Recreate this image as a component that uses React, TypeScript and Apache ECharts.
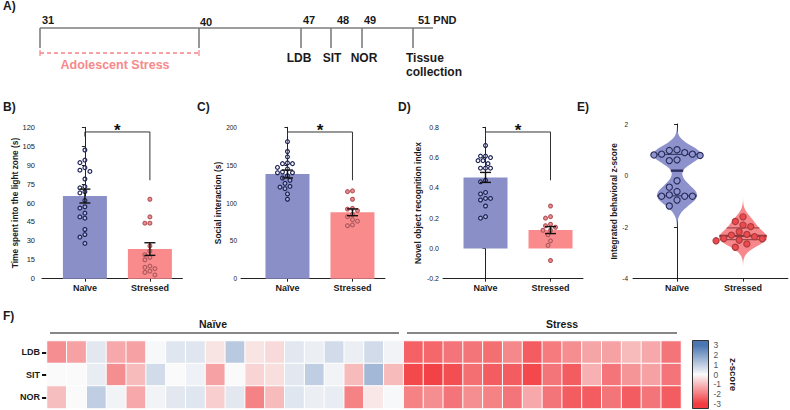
import React, { useEffect, useRef } from "react";
import * as echarts from "echarts";

const FONT = 'Arial, "Liberation Sans", Helvetica, sans-serif';
const NAIVE = "#8a8fc7";
const STRESS = "#f98b8d";
const INK = "#1a1a1a";

const groups = ["Naïve", "Stressed"];

// ---- Panel A: timeline ----
const pndDays = ["31", "40", "47", "48", "49", "51 PND"];
const tests = ["LDB", "SIT", "NOR"];

// ---- Panel B: light/dark box ----
const ldbNaive = [102, 94, 92, 88, 86, 85, 79, 73, 72, 69, 68, 62, 57, 56, 52, 49, 48, 39, 35, 33, 28];
const ldbStressed = [63, 49, 44, 44, 26, 22, 19, 17, 15, 10, 9, 8, 6, 5, 3];
const ldbMean = [65.5, 23.5];
const ldbSem = [5.5, 5.0];
const ldbBracket = [112.6, 116.3, 78];

// ---- Panel C: social interaction ----
const sitNaive = [181, 168, 161, 153, 152, 152, 147, 145, 141, 140, 140, 136, 133, 130, 126, 122, 121, 119, 112, 105];
const sitStressed = [116, 115, 105, 93, 92, 90, 85, 82, 78, 76, 71, 70];
const sitMean = [138.3, 87.7];
const sitSem = [5.2, 4.5];
const sitBracket = [188.5, 193.8, 130];

// ---- Panel D: novel object recognition ----
const norNaive = [0.68, 0.61, 0.61, 0.6, 0.58, 0.58, 0.56, 0.53, 0.53, 0.53, 0.45, 0.44, 0.37, 0.36, 0.33, 0.33, 0.32, 0.28, 0.21, 0.2];
const norStressed = [0.28, 0.21, 0.2, 0.16, 0.15, 0.14, 0.12, 0.12, 0.09, 0.05, 0.02, -0.08];
const norMean = [0.469, 0.121];
const norSem = [0.033, 0.023];
const norBracket = [0.738, 0.769, 0.45];

// ---- Panel E: integrated z-score ----
const zNaive = [1.0, 0.97, 0.89, 0.83, 0.83, 0.8, 0.78, 0.61, 0.58, -0.2, -0.45, -0.62, -0.75, -0.8, -0.8, -0.8, -0.95, -1.18];
const zStressed = [-1.6, -1.78, -1.92, -1.98, -2.18, -2.28, -2.31, -2.37, -2.44, -2.45, -2.5, -2.53, -2.65, -2.78];

// ---- Panel F: heatmap ----
const heatRows = ["LDB", "SIT", "NOR"];
const heatNaiveLDB = [-1.7, -1.4, 0.4, -1.3, -1.4, 0.05, 0.45, 0.45, -0.35, 1.1, -0.35, -0.5, 0.4, 0.25, 0.7, 0.25, 0.7, 0.15];
const heatNaiveSIT = [0.0, 0.0, 0.3, -1.7, -1.0, 0.7, 0.0, 0.2, -1.4, 0.0, -0.6, -0.45, 0.4, 1.0, 0.15, -1.0, 1.5, -1.0];
const heatNaiveNOR = [-0.95, 0.0, 1.0, 0.15, -1.3, 0.15, 0.4, 0.45, -0.7, 0.4, -1.9, -1.0, 0.45, 0.25, 0.3, -1.9, -0.3, 0.05];
const heatStressLDB = [-2.4, -2.3, -2.1, -2.1, -2.2, -1.8, -2.5, -2.0, -1.7, -1.35, -1.4, -1.0, -1.3, -2.1];
const heatStressSIT = [-2.8, -2.9, -2.7, -2.2, -2.5, -2.5, -2.8, -2.1, -2.5, -1.15, -2.1, -1.6, -1.4, -2.1];
const heatStressNOR = [-1.9, -1.7, -2.1, -1.7, -1.9, -2.1, -1.3, -2.1, -2.5, -2.5, -2.1, -2.5, -2.1, -2.5];
const zTicks = [3, 2, 1, 0, -1, -2, -3];

const RED = "#f23c41";
const WHITE = "#fafafa";
const BLUE = "#4a76b2";

function swarm(values: number[], center: number, pxY: number, pxX: number, dot: number): number[][] {
  const order = values.map((_, i) => i).sort((a, b) => values[b] - values[a]);
  const placed: number[][] = [];
  const out: number[][] = [];
  for (const i of order) {
    const y = values[i] * pxY;
    let best = 0;
    for (let k = 0; k < 80; k++) {
      const step = Math.ceil(k / 2) * dot * 0.5;
      const off = k === 0 ? 0 : k % 2 ? -step : step;
      if (placed.every(([px, py]) => Math.hypot(px - off, py - y) >= dot - 0.01)) {
        best = off;
        break;
      }
    }
    placed.push([best, y]);
    out.push([center + best / pxX, values[i]]);
  }
  return out;
}

function kde(vals: number[], factor: number) {
  const n = vals.length;
  const mean = vals.reduce((a, b) => a + b, 0) / n;
  const sd = Math.sqrt(vals.reduce((a, b) => a + (b - mean) ** 2, 0) / (n - 1));
  const s = [...vals].sort((a, b) => a - b);
  const q = (p: number) => {
    const i = (n - 1) * p;
    const lo = Math.floor(i);
    return s[lo] + (s[Math.min(lo + 1, n - 1)] - s[lo]) * (i - lo);
  };
  const iqr = q(0.75) - q(0.25);
  const bw = 0.9 * Math.min(sd, iqr / 1.34) * Math.pow(n, -0.2) * factor;
  const dens = (y: number) => vals.reduce((a, v) => a + Math.exp(-0.5 * ((y - v) / bw) ** 2), 0);
  const lo = s[0] - 3 * bw;
  const hi = s[n - 1] + 3 * bw;
  const pts: number[][] = [];
  for (let i = 0; i <= 200; i++) {
    const y = lo + ((hi - lo) * i) / 200;
    pts.push([y, dens(y)]);
  }
  const max = Math.max(...pts.map((p) => p[1]));
  return { pts, max, dens, q1: q(0.25), med: q(0.5), q3: q(0.75) };
}

type Panel = {
  left: number; top: number; height: number; xMin: number; xMax: number; pxX: number;
  yMin: number; yMax: number; yInt: number; name: string; nameGap: number;
  labelSize: number; labelMargin: number; fmt?: (v: number) => string;
};

const panels: Panel[] = [
  { left: 42, top: 127.3, height: 151.4, xMin: -0.66, xMax: 1.5, pxX: 65, yMin: 0, yMax: 120, yInt: 15, name: "Time spent into the light zone (s)", nameGap: 21, labelSize: 7.5, labelMargin: 7 },
  { left: 241, top: 127.3, height: 151.4, xMin: -0.715, xMax: 1.5, pxX: 65, yMin: 0, yMax: 200, yInt: 50, name: "Social interaction (s)", nameGap: 17, labelSize: 6.5, labelMargin: 4 },
  { left: 443, top: 127.3, height: 151.4, xMin: -0.654, xMax: 1.5, pxX: 65, yMin: -0.2, yMax: 0.8, yInt: 0.2, name: "Novel object recognition index", nameGap: 21, labelSize: 7, labelMargin: 4, fmt: (v) => v.toFixed(1) },
  { left: 633, top: 124, height: 154.7, xMin: -0.667, xMax: 1.68, pxX: 66, yMin: -4, yMax: 2, yInt: 2, name: "Integrated behavioral z-score", nameGap: 15, labelSize: 6.5, labelMargin: 5 },
];

function buildOption() {
  const grid: any[] = [];
  const xAxis: any[] = [];
  const yAxis: any[] = [];
  const series: any[] = [];
  const axisLine = { show: true, lineStyle: { color: "#222", width: 1 } };

  panels.forEach((p, i) => {
    grid.push({ left: p.left, top: p.top, height: p.height, width: (p.xMax - p.xMin) * p.pxX });
    xAxis.push({
      type: "value", gridIndex: i, min: p.xMin, max: p.xMax,
      axisLine: { ...axisLine, onZero: false },
      axisTick: { show: true, length: 3, customValues: [0, 1], lineStyle: { color: "#222" } },
      axisLabel: { customValues: [0, 1], formatter: (v: number) => groups[Math.round(v)], fontWeight: "bold", fontSize: 9, color: INK, margin: 5, fontFamily: FONT },
      splitLine: { show: false },
    });
    yAxis.push({
      type: "value", gridIndex: i, min: p.yMin, max: p.yMax, interval: p.yInt,
      name: p.name, nameLocation: "middle", nameGap: p.nameGap,
      nameTextStyle: { fontWeight: "bold", fontSize: 8.4, color: INK, fontFamily: FONT },
      axisLine,
      axisTick: { show: true, length: 3, lineStyle: { color: "#222" } },
      axisLabel: { fontSize: p.labelSize, color: "#222", margin: p.labelMargin, fontFamily: FONT, formatter: p.fmt ? p.fmt : (v: number) => String(v) },
      splitLine: { show: false },
    });
  });

  const pxY = (i: number) => panels[i].height / (panels[i].yMax - panels[i].yMin);

  const bracketSeries = (i: number, br: number[]) => ({
    type: "custom", xAxisIndex: i, yAxisIndex: i, z: 4,
    encode: { x: 0, y: [1, 2, 3] },
    data: [[0, br[0], br[1], br[2]]],
    renderItem: (_: any, api: any) => {
      const p0 = api.coord([0, br[0]]);
      const p1 = api.coord([0, br[1]]);
      const p2 = api.coord([1, br[1]]);
      const p3 = api.coord([1, br[2]]);
      return {
        type: "group",
        children: [
          { type: "polyline", shape: { points: [p0, p1, p2, p3] }, style: { stroke: "#333", lineWidth: 1, fill: null } },
          {
            type: "text", x: (p1[0] + p2[0]) / 2, y: p1[1] - 1,
            style: { text: "*", fontSize: 17, fontWeight: "bold", fontFamily: FONT, fill: "#111", align: "center", verticalAlign: "middle" },
          },
        ],
      };
    },
  });

  const barPanel = (i: number, naive: number[], stressed: number[], mean: number[], sem: number[], br: number[]) => {
    series.push({
      type: "bar", xAxisIndex: i, yAxisIndex: i, barWidth: 44, z: 1,
      data: mean.map((m, j) => ({ value: [j, m], itemStyle: { color: j ? STRESS : NAIVE } })),
    });
    series.push({
      type: "scatter", xAxisIndex: i, yAxisIndex: i, symbol: "circle", symbolSize: 3.8, z: 3,
      itemStyle: { color: "rgba(255,255,255,0.35)", borderColor: "#1d2254", borderWidth: 1.2, opacity: 1 },
      data: swarm(naive, 0, pxY(i), panels[i].pxX, 5.0),
    });
    series.push({
      type: "scatter", xAxisIndex: i, yAxisIndex: i, symbol: "circle", symbolSize: 3.8, z: 3,
      itemStyle: { color: "#ec8f92", borderColor: "#b4585c", borderWidth: 1.2, opacity: 1 },
      data: swarm(stressed, 1, pxY(i), panels[i].pxX, 5.0),
    });
    series.push({
      type: "custom", xAxisIndex: i, yAxisIndex: i, z: 4,
      encode: { x: 0, y: [1, 2] },
      data: mean.map((m, j) => [j, m - sem[j], m + sem[j]]),
      renderItem: (_: any, api: any) => {
        const x = api.value(0);
        const a = api.coord([x, api.value(1)]);
        const b = api.coord([x, api.value(2)]);
        const w = 5.5;
        const st = { stroke: "#111", lineWidth: 1.4 };
        return {
          type: "group",
          children: [
            { type: "line", shape: { x1: a[0], y1: a[1], x2: b[0], y2: b[1] }, style: st },
            { type: "line", shape: { x1: a[0] - w, y1: a[1], x2: a[0] + w, y2: a[1] }, style: st },
            { type: "line", shape: { x1: b[0] - w, y1: b[1], x2: b[0] + w, y2: b[1] }, style: st },
          ],
        };
      },
    });
    series.push(bracketSeries(i, br));
  };

  barPanel(0, ldbNaive, ldbStressed, ldbMean, ldbSem, ldbBracket);
  barPanel(1, sitNaive, sitStressed, sitMean, sitSem, sitBracket);
  barPanel(2, norNaive, norStressed, norMean, norSem, norBracket);

  // Panel E violins
  const violin = (center: number, vals: number[], factor: number, fill: string, lineColor: string) => {
    const k = kde(vals, factor);
    return {
      type: "custom", xAxisIndex: 3, yAxisIndex: 3, z: 1,
      data: [[center, k.med]],
      renderItem: (_: any, api: any) => {
        const half = 24;
        const right: number[][] = [];
        const left: number[][] = [];
        for (const [y, d] of k.pts) {
          const p = api.coord([center, y]);
          const w = (d / k.max) * half;
          right.push([p[0] + w, p[1]]);
          left.push([p[0] - w, p[1]]);
        }
        const ln = (y: number, lw: number) => {
          const p = api.coord([center, y]);
          const w = Math.max((k.dens(y) / k.max) * half, 3);
          return { type: "line", shape: { x1: p[0] - w, y1: p[1], x2: p[0] + w, y2: p[1] }, style: { stroke: lineColor, lineWidth: lw } };
        };
        return {
          type: "group",
          children: [
            { type: "polygon", shape: { points: right.concat(left.reverse()) }, style: { fill } },
            ln(k.q1, 1),
            ln(k.q3, 1),
            ln(k.med, 2.4),
          ],
        };
      },
    };
  };
  series.push(violin(0, zNaive, 0.74, "#8d92cc", "#2e3160"));
  series.push(violin(1, zStressed, 1.35, "#f7878a", "#8a3a3e"));
  series.push({
    type: "scatter", xAxisIndex: 3, yAxisIndex: 3, symbol: "circle", symbolSize: 6.2, z: 3,
    itemStyle: { color: "#9095d2", borderColor: "#262a55", borderWidth: 1.1, opacity: 1 },
    data: swarm(zNaive, 0, pxY(3), panels[3].pxX, 7.7),
  });
  series.push({
    type: "scatter", xAxisIndex: 3, yAxisIndex: 3, symbol: "circle", symbolSize: 6.2, z: 3,
    itemStyle: { color: "#ec4a4f", borderColor: "#a9393c", borderWidth: 1.1, opacity: 1 },
    data: swarm(zStressed, 1, pxY(3), panels[3].pxX, 7.7),
  });

  // Panel F heatmap
  const rowsData = [
    [...heatNaiveLDB, ...heatStressLDB],
    [...heatNaiveSIT, ...heatStressSIT],
    [...heatNaiveNOR, ...heatStressNOR],
  ];
  const nCols = rowsData[0].length;
  const heatData: number[][] = [];
  rowsData.forEach((row, r) => row.forEach((v, c) => heatData.push([c, r, v])));
  grid.push({ left: 47, top: 341, width: 634, height: 67.5 });
  xAxis.push({ type: "category", gridIndex: 4, data: Array.from({ length: nCols }, (_, i) => String(i + 1)), show: false });
  yAxis.push({
    type: "category", gridIndex: 4, data: heatRows, inverse: true,
    axisLine: { show: false },
    axisTick: { show: true, alignWithLabel: true, length: 5, lineStyle: { color: "#111", width: 2 } },
    axisLabel: { fontWeight: "bold", fontSize: 9, color: INK, margin: 7, fontFamily: FONT },
    splitLine: { show: false },
  });
  const heatIdx = series.length;
  series.push({
    type: "heatmap", xAxisIndex: 4, yAxisIndex: 4, data: heatData,
    itemStyle: { borderColor: "#fff", borderWidth: 1 },
    emphasis: { disabled: true },
  });

  // colour bar
  grid.push({ left: 692.5, top: 340.5, width: 16, height: 68 });
  xAxis.push({ type: "value", gridIndex: 5, min: 0, max: 1, show: false });
  yAxis.push({
    type: "value", gridIndex: 5, min: -3.5, max: 3.5, position: "right",
    name: "z-score", nameLocation: "middle", nameRotate: -90, nameGap: 20,
    nameTextStyle: { fontWeight: "bold", fontSize: 9.5, color: INK, fontFamily: FONT },
    axisLine: { show: false },
    axisTick: { show: true, length: 3, customValues: zTicks, lineStyle: { color: "#444" } },
    axisLabel: { customValues: zTicks, fontSize: 8.5, color: "#555", margin: 5, fontFamily: FONT, formatter: (v: number) => String(v) },
    splitLine: { show: false },
  });
  series.push({
    type: "custom", xAxisIndex: 5, yAxisIndex: 5, z: 2,
    data: [[0, 3.5, 1, -3.5]],
    renderItem: (_: any, api: any) => {
      const a = api.coord([0, 3.5]);
      const b = api.coord([1, -3.5]);
      const off = (v: number) => (3.5 - v) / 7;
      return {
        type: "rect",
        shape: { x: a[0], y: a[1], width: b[0] - a[0], height: b[1] - a[1] },
        style: {
          fill: new echarts.graphic.LinearGradient(0, 0, 0, 1, [
            { offset: 0, color: BLUE },
            { offset: off(3), color: BLUE },
            { offset: off(0), color: WHITE },
            { offset: off(-3), color: RED },
            { offset: 1, color: RED },
          ]),
          stroke: "#333",
          lineWidth: 1,
        },
      };
    },
  });

  // graphic annotations
  const txt = (x: number, y: number, text: string, o: any = {}) => ({
    type: "text", x, y, silent: true,
    style: { text, fontFamily: FONT, fontSize: 11, fontWeight: "bold", fill: INK, align: "left", verticalAlign: "middle", ...o },
  });
  const ln = (x1: number, y1: number, x2: number, y2: number, o: any = {}) => ({
    type: "line", silent: true, shape: { x1, y1, x2, y2 }, style: { stroke: "#7d7d7d", lineWidth: 1.6, ...o },
  });
  const tickX = [40, 199, 301, 331, 362, 413];
  const dayLabelX = [42, 200, 303, 337, 364, 418];
  const dayLabelY = [19.5, 22, 19.5, 19.5, 19.5, 19.5];
  const testX = [299, 332, 364];
  const graphic: any[] = [
    txt(3, 6, "A)", { fontSize: 12 }),
    txt(3, 107, "B)", { fontSize: 12 }),
    txt(197, 107, "C)", { fontSize: 12 }),
    txt(398, 107, "D)", { fontSize: 12 }),
    txt(577, 107, "E)", { fontSize: 12 }),
    txt(3, 316, "F)", { fontSize: 12 }),
    ln(40, 28, 433, 28),
    ...tickX.map((x) => ln(x, 28, x, 48)),
    ...pndDays.map((d, i) => txt(dayLabelX[i], dayLabelY[i], d)),
    ln(40, 53, 199, 53, { stroke: "#f58286", lineWidth: 1.4, lineDash: [4, 3] }),
    ln(40, 50, 40, 56, { stroke: "#f58286", lineWidth: 1.2 }),
    ln(199, 50, 199, 56, { stroke: "#f58286", lineWidth: 1.2 }),
    txt(115, 65, "Adolescent Stress", { fill: "#f7898b", fontSize: 12.5, align: "center" }),
    ...tests.map((t, i) => txt(testX[i], 58, t, { fontSize: 12, align: "center" })),
    txt(406, 58, "Tissue", { fontSize: 12 }),
    txt(406, 72, "collection", { fontSize: 12 }),
    txt(213, 324, "Naïve", { fontSize: 10.5, align: "center" }),
    txt(562, 324, "Stress", { fontSize: 10.5, align: "center" }),
    ln(50, 333, 399, 333, { stroke: "#111", lineWidth: 1.2 }),
    ln(407, 333, 677, 333, { stroke: "#111", lineWidth: 1.2 }),
  ];

  return {
    animation: false,
    backgroundColor: "#ffffff",
    textStyle: { fontFamily: FONT },
    grid,
    xAxis,
    yAxis,
    visualMap: [
      { type: "continuous", show: false, min: -3, max: 3, dimension: 2, seriesIndex: heatIdx, inRange: { color: [RED, WHITE, BLUE] } },
    ],
    series,
    graphic,
  };
}

export default function App() {
  const ref = useRef<HTMLDivElement>(null);
  useEffect(() => {
    if (!ref.current) return;
    const chart = echarts.init(ref.current, undefined, { renderer: "svg" });
    chart.setOption(buildOption() as any);
    return () => chart.dispose();
  }, []);
  return <div ref={ref} style={{ position: "fixed", left: 0, top: 0, width: 790, height: 410, background: "#fff" }} />;
}
